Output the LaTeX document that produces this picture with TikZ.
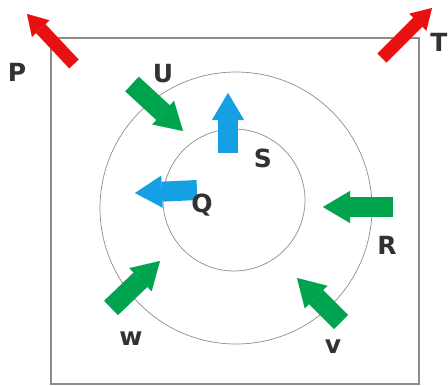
\documentclass[tikz,border=0pt]{standalone}
\usepackage{fontspec}
\setmainfont{DejaVu Sans}
\usetikzlibrary{arrows.meta}
\definecolor{redA}{RGB}{232,16,16}
\definecolor{greenA}{RGB}{0,163,78}
\definecolor{blueA}{RGB}{22,160,228}
\definecolor{labelC}{RGB}{50,50,50}
\tikzset{
  frame/.style={draw=black!45,line width=1.3pt},
  ring/.style={draw=black!45,line width=0.7pt},
  redarrow/.style={draw=redA,line width=13pt,-{Triangle[width=24pt,length=20pt,line width=0.01pt]}},
  bigarrow/.style={line width=20pt,-{Triangle[width=32pt,length=27pt,line width=0.01pt]}},
  greenarrow/.style={bigarrow,draw=greenA},
  bluearrow/.style={bigarrow,draw=blueA},
  lbl/.style={text=labelC,font=\fontsize{25}{25}\selectfont\bfseries,inner sep=0pt}
}
\begin{document}
\begin{tikzpicture}[x=1pt,y=-1pt]
\useasboundingbox (0,0) rectangle (448,386);
\node[frame,rectangle,minimum width=368pt,minimum height=346pt,inner sep=0pt] (box) at (235,211) {};
\node[ring,circle,minimum size=272pt,inner sep=0pt] (outer) at (236,208) {};
\node[ring,circle,minimum size=142pt,inner sep=0pt] (inner) at (234,200) {};
% arrow end points
\coordinate (Pt) at (74,64);   \coordinate (Ph) at (27,14);
\coordinate (Tt) at (382,58);  \coordinate (Th) at (432,8);
\coordinate (Ut) at (132,84);  \coordinate (Uh) at (183,131);
\coordinate (St) at (228,153); \coordinate (Sh) at (228,93);
\coordinate (Qt) at (197,190); \coordinate (Qh) at (135,193);
\coordinate (Rt) at (393,207); \coordinate (Rh) at (323,207);
\coordinate (Vt) at (341,322); \coordinate (Vh) at (297,278);
\coordinate (Wt) at (111,308); \coordinate (Wh) at (160,261);
\draw[redarrow] (Pt) -- (Ph);
\draw[redarrow] (Tt) -- (Th);
\draw[greenarrow] (Ut) -- (Uh);
\draw[greenarrow] (Rt) -- (Rh);
\draw[greenarrow] (Vt) -- (Vh);
\draw[greenarrow] (Wt) -- (Wh);
\draw[bluearrow] (St) -- (Sh);
\draw[bluearrow] (Qt) -- (Qh);
% labels
\node[lbl] (P) at (17,72) {P};
\node[lbl] (T) at (439,42) {T};
\node[lbl] (U) at (163,74) {U};
\node[lbl] (S) at (263,158) {S};
\node[lbl] (Q) at (202,205) {Q};
\node[lbl] (R) at (387,245) {R};
\node[lbl,anchor=base] (w) at (131,345) {w};
\node[lbl,anchor=base] (v) at (333,353) {v};
\end{tikzpicture}
\end{document}
